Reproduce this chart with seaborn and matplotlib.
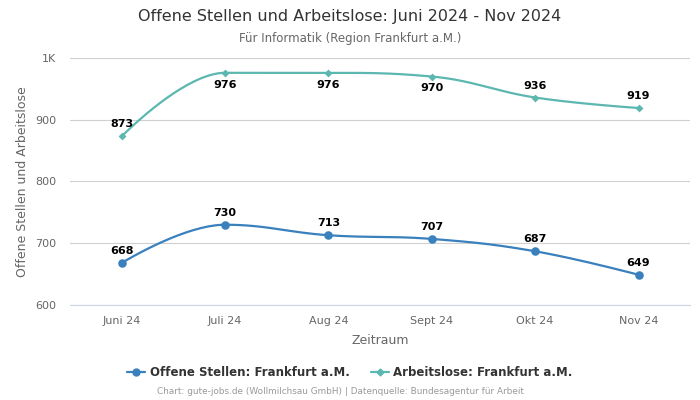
import numpy as np
import pandas as pd
import matplotlib
matplotlib.use("Agg")
import matplotlib.pyplot as plt
from matplotlib.lines import Line2D
import seaborn as sns

# data
months = ["Juni 24", "Juli 24", "Aug 24", "Sept 24", "Okt 24", "Nov 24"]
offene_stellen = [668, 730, 713, 707, 687, 649]
arbeitslose = [873, 976, 976, 970, 936, 919]

c_offen = "#3a80bd"
c_arbeit = "#5bb7b0"


def spline(xs, ys, n=40):
    # highcharts-like spline through the points (smoothing 1.5)
    xs = np.asarray(xs, float)
    ys = np.asarray(ys, float)
    sm, den = 1.5, 2.5
    lc, rc = [], []
    for i in range(len(xs)):
        if i == 0 or i == len(xs) - 1:
            lc.append((xs[i], ys[i]))
            rc.append((xs[i], ys[i]))
            continue
        lx = (sm * xs[i] + xs[i - 1]) / den
        ly = (sm * ys[i] + ys[i - 1]) / den
        rx = (sm * xs[i] + xs[i + 1]) / den
        ry = (sm * ys[i] + ys[i + 1]) / den
        corr = ((ry - ly) * (rx - xs[i])) / (rx - lx) + ys[i] - ry
        ly += corr
        ry += corr
        if ly > max(ys[i - 1], ys[i]):
            ly = max(ys[i - 1], ys[i]); ry = 2 * ys[i] - ly
        elif ly < min(ys[i - 1], ys[i]):
            ly = min(ys[i - 1], ys[i]); ry = 2 * ys[i] - ly
        if ry > max(ys[i + 1], ys[i]):
            ry = max(ys[i + 1], ys[i]); ly = 2 * ys[i] - ry
        elif ry < min(ys[i + 1], ys[i]):
            ry = min(ys[i + 1], ys[i]); ly = 2 * ys[i] - ry
        lc.append((lx, ly))
        rc.append((rx, ry))
    px, py = [], []
    t = np.linspace(0, 1, n)
    for i in range(len(xs) - 1):
        p0 = np.array([xs[i], ys[i]]); p1 = np.array(rc[i])
        p2 = np.array(lc[i + 1]); p3 = np.array([xs[i + 1], ys[i + 1]])
        b = ((1 - t) ** 3)[:, None] * p0 + (3 * (1 - t) ** 2 * t)[:, None] * p1 \
            + (3 * (1 - t) * t ** 2)[:, None] * p2 + (t ** 3)[:, None] * p3
        px.extend(b[:, 0]); py.extend(b[:, 1])
    return np.array(px), np.array(py)


sns.set_theme(style="white")
plt.rcParams["font.family"] = ["DejaVu Sans"]

fig = plt.figure(figsize=(7, 4), dpi=100)
ax = fig.add_axes([0.1, 0.2375, 0.886, 0.6175])

x = np.arange(len(months))
for vals, col, mk, ms in [(offene_stellen, c_offen, "o", 38), (arbeitslose, c_arbeit, "D", 16)]:
    sx, sy = spline(x, vals)
    curve = pd.DataFrame({"x": sx, "y": sy})
    sns.lineplot(data=curve, x="x", y="y", color=col, linewidth=1.6, ax=ax, sort=False)
    pts = pd.DataFrame({"x": x, "y": vals})
    sns.scatterplot(data=pts, x="x", y="y", color=col, marker=mk, s=ms, linewidth=0, ax=ax, zorder=5)

for xi, v in zip(x, offene_stellen):
    ax.annotate(str(v), (xi, v), xytext=(0, 5), textcoords="offset points",
                ha="center", va="bottom", fontsize=8, fontweight="bold", color="black")
for xi, v in zip(x, arbeitslose):
    below = v > 950
    ax.annotate(str(v), (xi, v), xytext=(0, -5 if below else 5), textcoords="offset points",
                ha="center", va="top" if below else "bottom", fontsize=8, fontweight="bold", color="black")

ax.set_xlim(-0.5, len(months) - 0.5)
ax.set_ylim(600, 1000)
ax.set_yticks([600, 700, 800, 900, 1000])
ax.set_yticklabels(["600", "700", "800", "900", "1K"])
ax.set_xticks(x)
ax.set_xticklabels(months)
ax.tick_params(axis="both", labelsize=8, colors="#666666", length=0)
ax.tick_params(axis="y", pad=10)
ax.tick_params(axis="x", pad=8)
ax.grid(axis="y", color="#d0d0d0", linewidth=0.8)
ax.set_axisbelow(True)
for s in ["top", "right", "left"]:
    ax.spines[s].set_visible(False)
ax.spines["bottom"].set_color("#ccd6eb")
ax.spines["bottom"].set_linewidth(0.8)

ax.set_xlabel("Zeitraum", fontsize=9, color="#666666", labelpad=6)
ax.set_ylabel("Offene Stellen und Arbeitslose", fontsize=9, color="#666666")
ax.yaxis.set_label_coords(-0.066, 0.5)

fig.text(0.5, 0.958, "Offene Stellen und Arbeitslose: Juni 2024 - Nov 2024",
         ha="center", va="center", fontsize=11.5, color="#333333")
fig.text(0.5, 0.903, "Für Informatik (Region Frankfurt a.M.)",
         ha="center", va="center", fontsize=8.5, color="#666666")

handles = [Line2D([0], [0], color=c_offen, marker="o", markersize=5, linewidth=1.6),
           Line2D([0], [0], color=c_arbeit, marker="D", markersize=3.5, linewidth=1.6)]
fig.legend(handles, ["Offene Stellen: Frankfurt a.M.", "Arbeitslose: Frankfurt a.M."],
           loc="center", bbox_to_anchor=(0.5, 0.068), ncol=2, frameon=False,
           prop={"size": 8.5, "weight": "bold"}, labelcolor="#333333",
           handlelength=1.5, handletextpad=0.4, columnspacing=1.8)

fig.text(0.486, 0.02, "Chart: gute-jobs.de (Wollmilchsau GmbH) | Datenquelle: Bundesagentur für Arbeit",
         ha="center", va="center", fontsize=6.4, color="#999999")

fig.savefig("out.png", dpi=100)
